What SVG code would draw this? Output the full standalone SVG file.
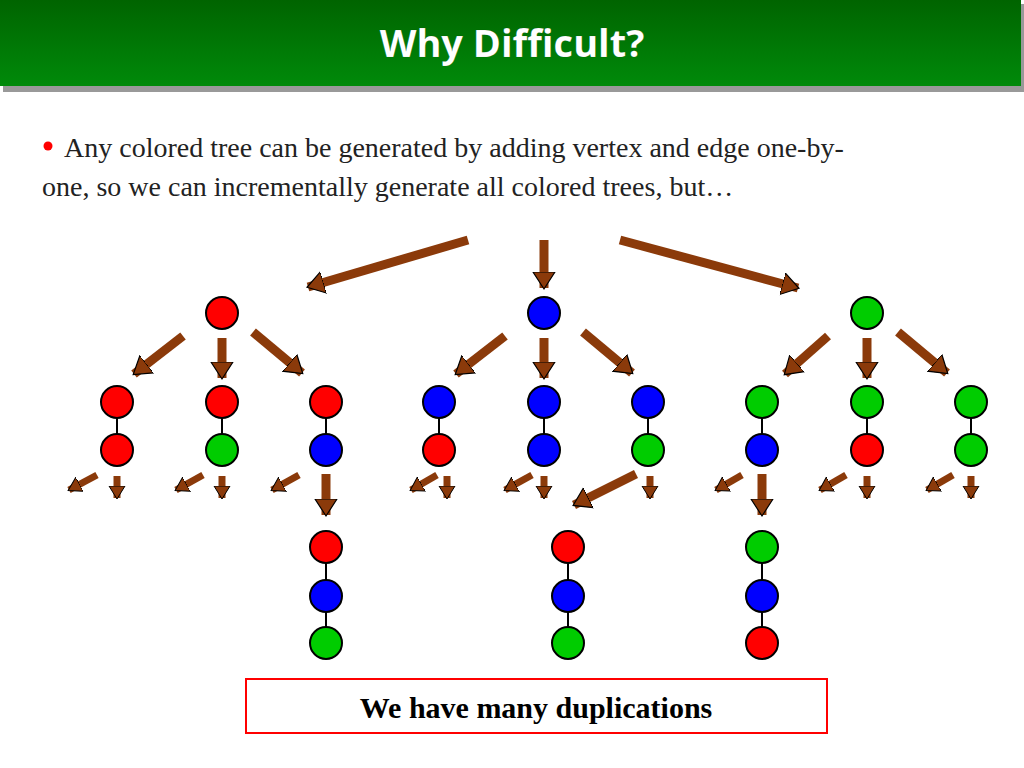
<svg xmlns="http://www.w3.org/2000/svg" width="1024" height="768" viewBox="0 0 1024 768">
<defs>
<linearGradient id="hg" x1="0" y1="0" x2="0" y2="1"><stop offset="0" stop-color="#006400"/><stop offset="1" stop-color="#008a0a"/></linearGradient>
<marker id="ah" markerUnits="userSpaceOnUse" markerWidth="30" markerHeight="30" refX="16" refY="12" orient="auto" viewBox="0 0 30 30">
<polygon points="0,1 17,12 0,23" fill="#8b3a0a" stroke="#000" stroke-width="1.2"/></marker>
<marker id="as" markerUnits="userSpaceOnUse" markerWidth="24" markerHeight="24" refX="12" refY="9" orient="auto" viewBox="0 0 24 24">
<polygon points="0,1 13,9 0,17" fill="#8b3a0a" stroke="#000" stroke-width="1"/></marker>
</defs>
<style>
.n{stroke:#000;stroke-width:2}
.r{fill:#ff0000}.b{fill:#0000ff}.g{fill:#00cc00}
.e{stroke:#000;stroke-width:2}
.a{stroke:#8b3a0a;stroke-width:9;fill:none;marker-end:url(#ah)}
.s{stroke:#8b3a0a;stroke-width:7;fill:none;marker-end:url(#as)}
.t{font-family:"Liberation Serif",serif;font-size:28px;fill:#222}
</style>
<rect x="3" y="4" width="1024" height="88" fill="#999"/>
<rect x="0" y="0" width="1021" height="86" fill="url(#hg)"/>
<text x="512" y="57" text-anchor="middle" font-family="Open Sans,Liberation Sans,sans-serif" font-weight="bold" font-size="38" fill="#fff" stroke="#000" stroke-opacity="0.2" stroke-width="0.5">Why Difficult?</text>
<circle cx="48" cy="146" r="4.5" fill="#ff0000"/>
<text class="t" x="64" y="157">Any colored tree can be generated by adding vertex and edge one-by-</text>
<text class="t" x="42" y="196">one, so we can incrementally generate all colored trees, but…</text>
<g id="connectors">
<line class="a" x1="468" y1="240" x2="308" y2="287"/>
<line class="a" x1="544" y1="240" x2="544" y2="288"/>
<line class="a" x1="620" y1="240" x2="798" y2="288"/>
<line class="a" x1="183" y1="336" x2="134" y2="374"/>
<line class="a" x1="222" y1="338" x2="222" y2="378"/>
<line class="a" x1="253" y1="332" x2="302" y2="373"/>
<line class="a" x1="505" y1="336" x2="456" y2="374"/>
<line class="a" x1="544" y1="338" x2="544" y2="378"/>
<line class="a" x1="583" y1="332" x2="632" y2="373"/>
<line class="a" x1="828" y1="336" x2="785" y2="374"/>
<line class="a" x1="867" y1="338" x2="867" y2="378"/>
<line class="a" x1="898" y1="332" x2="947" y2="373"/>
<g>
<line class="s" x1="97" y1="475" x2="69" y2="490"/><line class="s" x1="117" y1="476" x2="117" y2="498"/>
<line class="s" x1="203" y1="475" x2="176" y2="490"/><line class="s" x1="222" y1="476" x2="222" y2="498"/>
<line class="s" x1="299" y1="475" x2="272" y2="490"/><line class="a" x1="326" y1="474" x2="326" y2="515"/>
<line class="s" x1="437" y1="475" x2="411" y2="490"/><line class="s" x1="447" y1="476" x2="447" y2="498"/>
<line class="s" x1="532" y1="475" x2="505" y2="490"/><line class="s" x1="544" y1="476" x2="544" y2="498"/>
<line class="a" x1="636" y1="474" x2="574" y2="505"/><line class="s" x1="650" y1="476" x2="650" y2="498"/>
<line class="s" x1="742" y1="475" x2="716" y2="490"/><line class="a" x1="762" y1="474" x2="762" y2="515"/>
<line class="s" x1="846" y1="475" x2="820" y2="490"/><line class="s" x1="867" y1="476" x2="867" y2="498"/>
<line class="s" x1="953" y1="475" x2="927" y2="490"/><line class="s" x1="971" y1="476" x2="971" y2="498"/>
</g>
<line class="e" x1="117" y1="402" x2="117" y2="450"/><line class="e" x1="222" y1="402" x2="222" y2="450"/><line class="e" x1="326" y1="402" x2="326" y2="450"/>
<line class="e" x1="439" y1="402" x2="439" y2="450"/><line class="e" x1="544" y1="402" x2="544" y2="450"/><line class="e" x1="648" y1="402" x2="648" y2="450"/>
<line class="e" x1="762" y1="402" x2="762" y2="450"/><line class="e" x1="867" y1="402" x2="867" y2="450"/><line class="e" x1="971" y1="402" x2="971" y2="450"/>
<line class="e" x1="326" y1="547" x2="326" y2="643"/><line class="e" x1="568" y1="547" x2="568" y2="643"/><line class="e" x1="762" y1="547" x2="762" y2="643"/>
</g>
<g id="nodes">
<g id="root-r"><circle class="n r" cx="222" cy="313" r="16"/></g>
<g id="root-b"><circle class="n b" cx="544" cy="313" r="16"/></g>
<g id="root-g"><circle class="n g" cx="867" cy="313" r="16"/></g>
<g id="rr"><circle class="n r" cx="117" cy="402" r="16"/><circle class="n r" cx="117" cy="450" r="16"/></g>
<g id="rg"><circle class="n r" cx="222" cy="402" r="16"/><circle class="n g" cx="222" cy="450" r="16"/></g>
<g id="rb"><circle class="n r" cx="326" cy="402" r="16"/><circle class="n b" cx="326" cy="450" r="16"/></g>
<g id="br"><circle class="n b" cx="439" cy="402" r="16"/><circle class="n r" cx="439" cy="450" r="16"/></g>
<g id="bb"><circle class="n b" cx="544" cy="402" r="16"/><circle class="n b" cx="544" cy="450" r="16"/></g>
<g id="bg"><circle class="n b" cx="648" cy="402" r="16"/><circle class="n g" cx="648" cy="450" r="16"/></g>
<g id="gb"><circle class="n g" cx="762" cy="402" r="16"/><circle class="n b" cx="762" cy="450" r="16"/></g>
<g id="gr"><circle class="n g" cx="867" cy="402" r="16"/><circle class="n r" cx="867" cy="450" r="16"/></g>
<g id="gg"><circle class="n g" cx="971" cy="402" r="16"/><circle class="n g" cx="971" cy="450" r="16"/></g>
<g id="rbg"><circle class="n r" cx="326" cy="547" r="16"/><circle class="n b" cx="326" cy="596" r="16"/><circle class="n g" cx="326" cy="643" r="16"/></g>
<g id="rbg2"><circle class="n r" cx="568" cy="547" r="16"/><circle class="n b" cx="568" cy="596" r="16"/><circle class="n g" cx="568" cy="643" r="16"/></g>
<g id="gbr"><circle class="n g" cx="762" cy="547" r="16"/><circle class="n b" cx="762" cy="596" r="16"/><circle class="n r" cx="762" cy="643" r="16"/></g>
</g>
<g id="note">
<rect x="246" y="679" width="581" height="54" fill="#fff" stroke="#ff0000" stroke-width="2"/>
<text x="536" y="718" text-anchor="middle" font-family="Liberation Serif,serif" font-weight="bold" font-size="30" fill="#000">We have many duplications</text>
</g>
</svg>
